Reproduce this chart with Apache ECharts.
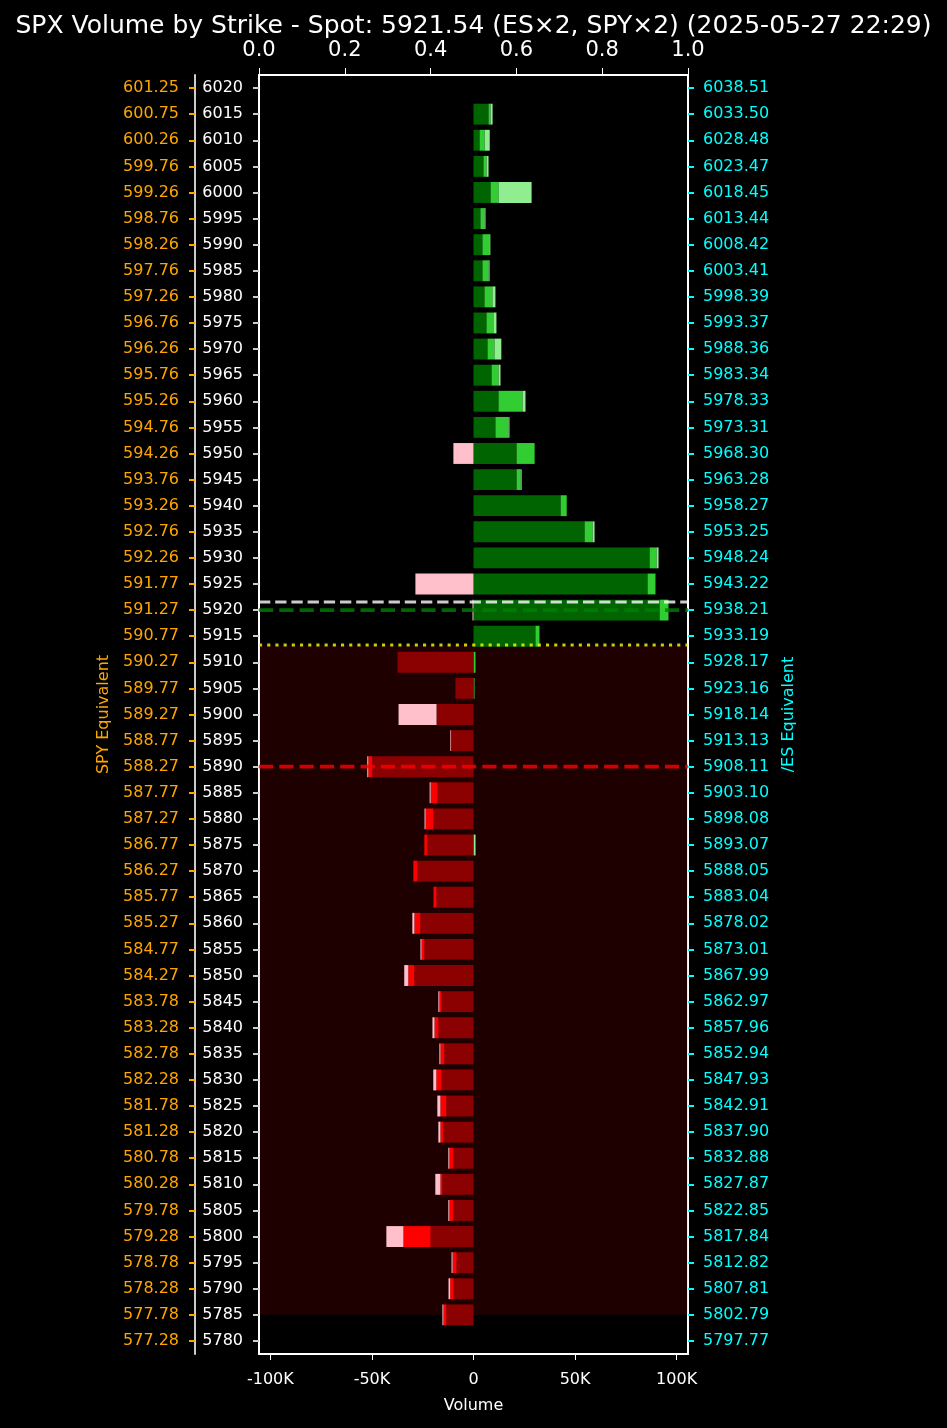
<!DOCTYPE html>
<html>
<head>
<meta charset="utf-8">
<script src="https://cdn.jsdelivr.net/npm/echarts@6/dist/echarts.min.js"></script>
<style>
html,body{margin:0;padding:0;background:#000;}
#chart{width:947px;height:1428px;}
</style>
</head>
<body>
<div id="chart"></div>
<script>
// Strikes, top to bottom
const strikes = [6020,6015,6010,6005,6000,5995,5990,5985,5980,5975,5970,5965,5960,5955,5950,5945,5940,5935,5930,5925,5920,5915,5910,5905,5900,5895,5890,5885,5880,5875,5870,5865,5860,5855,5850,5845,5840,5835,5830,5825,5820,5815,5810,5805,5800,5795,5790,5785,5780];
const spyLabels = ["601.25","600.75","600.26","599.76","599.26","598.76","598.26","597.76","597.26","596.76","596.26","595.76","595.26","594.76","594.26","593.76","593.26","592.76","592.26","591.77","591.27","590.77","590.27","589.77","589.27","588.77","588.27","587.77","587.27","586.77","586.27","585.77","585.27","584.77","584.27","583.78","583.28","582.78","582.28","581.78","581.28","580.78","580.28","579.78","579.28","578.78","578.28","577.78","577.28"];
const esLabels = ["6038.51","6033.50","6028.48","6023.47","6018.45","6013.44","6008.42","6003.41","5998.39","5993.37","5988.36","5983.34","5978.33","5973.31","5968.30","5963.28","5958.27","5953.25","5948.24","5943.22","5938.21","5933.19","5928.17","5923.16","5918.14","5913.13","5908.11","5903.10","5898.08","5893.07","5888.05","5883.04","5878.02","5873.01","5867.99","5862.97","5857.96","5852.94","5847.93","5842.91","5837.90","5832.88","5827.87","5822.85","5817.84","5812.82","5807.81","5802.79","5797.77"];
// Volumes in thousands (K)
const spxCalls = [0,7.4,3.0,4.9,8.4,3.4,4.4,4.4,5.4,6.4,6.9,8.9,12.3,10.8,21.2,21.2,42.9,54.7,86.7,85.7,91.6,30.5,0,0,0,0,0,0,0,0,0,0,0,0,0,0,0,0,0,0,0,0,0,0,0,0,0,0,0];
const esCalls  = [0,1.0,2.5,1.5,3.9,2.0,3.4,3.0,3.9,3.4,3.4,3.4,11.8,6.4,8.9,2.0,3.0,3.9,3.4,3.9,4.4,2.0,1.0,0.5,0,0,0,0,0,0,0,0,0,0,0,0,0,0,0,0,0,0,0,0,0,0,0,0,0];
const spyCalls = [0,1.0,2.5,1.0,16.3,0.5,0.5,0.5,1.5,1.5,3.4,1.0,1.5,0.5,0,0.5,0,1.0,1.0,0,0,0,0,0,0,0,0,0,0,1.0,0,0,0,0,0,0,0,0,0,0,0,0,0,0,0,0,0,0,0];
const spxPuts  = [0,0,0,0,0,0,0,0,0,0,0,0,0,0,0,0,0,0,0,0,0,0,-37.4,-8.9,-18.2,-10.8,-49.8,-17.7,-19.7,-22.7,-27.6,-18.2,-26.1,-24.1,-29.1,-15.8,-17.2,-14.3,-15.8,-13.3,-14.8,-9.9,-15.3,-9.9,-21.1,-8.3,-9.8,-13.3,0];
const esPuts   = [0,0,0,0,0,0,0,0,0,0,0,0,0,0,0,0,0,0,0,0,0,0,0,0,0,-0.4,-2.0,-3.4,-3.9,-1.5,-2.0,-1.5,-3.0,-1.5,-3.0,-1.0,-2.0,-2.0,-2.5,-3.0,-1.5,-2.0,-1.0,-2.0,-13.4,-2.0,-1.7,-1.5,0];
const spyPuts  = [0,0,0,0,0,0,0,0,0,0,0,0,0,0,-9.9,0,0,0,0,-28.6,-0.5,0,0,0,-18.7,-0.3,-0.5,-0.5,-0.5,0,0,0,-1.0,-0.5,-2.0,-0.5,-1.0,-0.5,-1.5,-1.5,-1.0,-0.5,-2.5,-0.5,-8.4,-0.5,-0.8,-0.5,0];
const xTicks = [-100,-50,0,50,100];
const XMIN = -105.6, XMAX = 105.6;
const spot = 5921.54, callLevel = 5920, flipLevel = 5913.3, putLevel = 5890, zoneLow = 5785;

const FONT = 'DejaVu Sans';
const FS = 16;
const chart = echarts.init(document.getElementById('chart'), null, {renderer:'canvas'});

function barSeries(name, data, color){
  return {name, type:'bar', stack:'vol', data, xAxisIndex:0, yAxisIndex:0,
    barWidth:'80%', itemStyle:{color}, z:2, silent:true};
}
function lineSeries(name, y, color, width, dash, z){
  return {name, type:'line', xAxisIndex:0, yAxisIndex:3, data:[[XMIN,y],[XMAX,y]],
    symbol:'none', silent:true, z,
    lineStyle:{color, width, type:dash, cap:'butt'}};
}
const catCommon = {
  type:'category', data:strikes, inverse:true, boundaryGap:true,
  axisTick:{show:true, alignWithLabel:true, interval:0, length:6},
  splitLine:{show:false}
};

const option = {
  backgroundColor:'#000000',
  animation:false,
  textStyle:{fontFamily:FONT},
  title:{
    text:'SPX Volume by Strike - Spot: 5921.54 (ES\u00d72, SPY\u00d72) (2025-05-27 22:29)',
    left:'center', top:9,
    textStyle:{color:'#ffffff', fontSize:25, fontWeight:'normal', fontFamily:FONT}
  },
  grid:{left:259, right:259, top:75, bottom:74, containLabel:false},
  xAxis:[
    {type:'value', position:'bottom', min:XMIN, max:XMAX,
     name:'Volume', nameLocation:'middle', nameGap:44,
     nameTextStyle:{color:'#ffffff', fontSize:FS, fontFamily:FONT},
     axisLine:{show:true, onZero:false, lineStyle:{color:'#ffffff', width:2}},
     axisTick:{show:true, length:6, customValues:xTicks, lineStyle:{color:'#ffffff'}},
     axisLabel:{color:'#ffffff', fontSize:FS, fontFamily:FONT, margin:18, customValues:xTicks,
       formatter:v => v===0 ? '0' : v + 'K'},
     splitLine:{show:false}},
    {type:'value', position:'top', min:0, max:1, interval:0.2,
     axisLine:{show:true, onZero:false, lineStyle:{color:'#ffffff', width:2}},
     axisTick:{show:true, length:7, lineStyle:{color:'#ffffff'}},
     axisLabel:{color:'#ffffff', fontSize:21, fontFamily:FONT, margin:14, formatter:v => v.toFixed(1)},
     splitLine:{show:false}}
  ],
  yAxis:[
    Object.assign({}, catCommon, {position:'left',
      axisLine:{show:true, onZero:false, lineStyle:{color:'#ffffff', width:2}},
      axisTick:Object.assign({}, catCommon.axisTick, {lineStyle:{color:'#cccccc', width:2}}),
      axisLabel:{interval:0, color:'#ffffff', fontSize:FS, fontFamily:FONT, margin:16}}),
    Object.assign({}, catCommon, {position:'left', offset:64,
      name:'SPY Equivalent', nameLocation:'middle', nameGap:83,
      nameTextStyle:{color:'#FFA500', fontSize:FS, fontFamily:FONT},
      axisLine:{show:true, onZero:false, lineStyle:{color:'#cccccc', width:2}},
      axisTick:Object.assign({}, catCommon.axisTick, {lineStyle:{color:'#FFA500', width:2}}),
      axisLabel:{interval:0, color:'#FFA500', fontSize:FS, fontFamily:FONT, margin:16,
        formatter:(v) => spyLabels[strikes.indexOf(Number(v))]}}),
    Object.assign({}, catCommon, {position:'right',
      name:'/ES Equivalent', nameLocation:'middle', nameGap:93,
      nameTextStyle:{color:'#00FFFF', fontSize:FS, fontFamily:FONT},
      axisLine:{show:true, onZero:false, lineStyle:{color:'#ffffff', width:2}},
      axisTick:Object.assign({}, catCommon.axisTick, {lineStyle:{color:'#00FFFF', width:2}}),
      axisLabel:{interval:0, color:'#00FFFF', fontSize:FS, fontFamily:FONT, margin:15,
        formatter:(v) => esLabels[strikes.indexOf(Number(v))]}}),
    {type:'value', show:false, min:5777.5, max:6022.5, position:'left'}
  ],
  series:[
    {name:'zone', type:'line', xAxisIndex:0, yAxisIndex:3, data:[], symbol:'none', silent:true, z:0,
     markArea:{silent:true, itemStyle:{color:'rgba(255,0,0,0.12)'},
       data:[[{yAxis:flipLevel, xAxis:XMIN},{yAxis:zoneLow, xAxis:XMAX}]]}},
    barSeries('SPX Calls', spxCalls, '#006400'),
    barSeries('ES Calls', esCalls, '#32CD32'),
    barSeries('SPY Calls', spyCalls, '#90EE90'),
    barSeries('SPX Puts', spxPuts, '#8B0000'),
    barSeries('ES Puts', esPuts, '#FF0000'),
    barSeries('SPY Puts', spyPuts, '#FFC0CB'),
    lineSeries('Spot', spot, 'rgba(255,255,255,0.8)', 3, [11.3,4.9], 6),
    lineSeries('Call level', callLevel, 'rgba(0,128,0,0.8)', 3.8, [14.2,6.1], 6),
    lineSeries('Flip', flipLevel, 'rgba(255,255,0,0.8)', 3, [3.1,5.1], 6),
    lineSeries('Put level', putLevel, 'rgba(255,0,0,0.8)', 3.8, [14.2,6.1], 6)
  ]
};
chart.setOption(option);
</script>
</body>
</html>
